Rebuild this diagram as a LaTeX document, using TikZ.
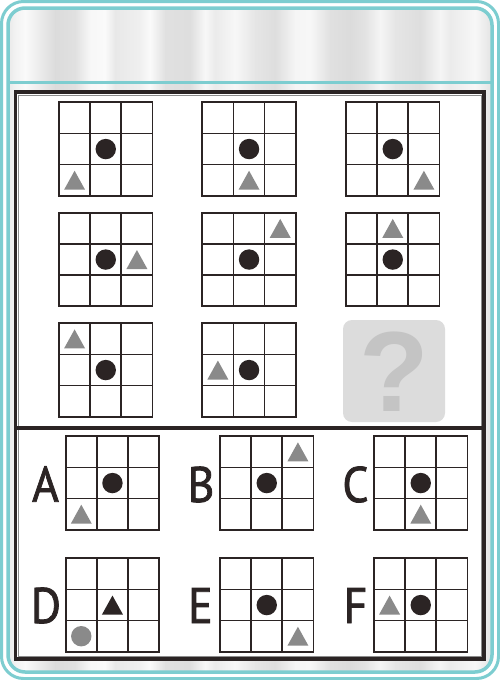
\documentclass[tikz,border=0pt]{standalone}
\usepackage{fontspec}
\newfontfamily\letterfont{PT Sans}[FakeBold=1.6]
\newfontfamily\qfont{Liberation Sans}
\definecolor{tealline}{RGB}{125,205,208}
\definecolor{ink}{RGB}{43,36,36}
\definecolor{trigray}{RGB}{138,138,138}
\definecolor{qbox}{RGB}{220,220,220}
\definecolor{qmark}{RGB}{196,196,196}
\newcommand\cs{31.17}
\newcommand\pzgrid[2]{%
  \begin{scope}[shift={(#1,#2)}]
    \foreach \k in {1,2} {
      \draw[gridline] (\k*\cs,0) -- (\k*\cs,3*\cs);
      \draw[gridline] (0,\k*\cs) -- (3*\cs,\k*\cs);
    }
    \draw[gridline] (0,0) rectangle (3*\cs,3*\cs);
  \end{scope}}
\newcommand\pzcirc[5]{%
  \fill[#5] (#1+#3*\cs+0.5*\cs, #2+#4*\cs+0.5*\cs) circle (10.2pt);}
\newcommand\pztri[5]{%
  \fill[#5, shift={(#1+#3*\cs+0.5*\cs, #2+#4*\cs+0.5*\cs)}] (-10.5,9.5) -- (10.5,9.5) -- (0,-9.5) -- cycle;}
\newcommand\pzstd[4]{% x y tricol trirow
  \pzgrid{#1}{#2}\pzcirc{#1}{#2}{1}{1}{ink}\pztri{#1}{#2}{#3}{#4}{trigray}}
\tikzset{
  gridline/.style={draw=ink, line width=1.7pt, line cap=rect},
  optletter/.style={font=\letterfont\fontsize{50}{50}\selectfont, text=ink, anchor=base, inner sep=0pt, xscale=0.92},
}
\begin{document}
\begin{tikzpicture}[x=1pt,y=-1pt]
\useasboundingbox (0,0) rectangle (500,680);
\fill[white] (0,0) rectangle (500,680);
% curtain background
\begin{scope}
\clip[rounded corners=17pt] (8,8) rectangle (492,672);
\foreach \xa/\ga/\xb/\gb in {0/12/15/5, 15/5/25/2, 25/2/35/6, 35/6/55/14, 55/14/75/12, 75/12/90/3, 90/3/105/2, 105/2/115/9, 115/9/140/6, 140/6/150/2, 150/2/165/12, 165/12/190/13, 190/13/205/3, 205/3/215/8, 215/8/235/3, 235/3/255/10, 255/10/275/13, 275/13/295/4, 295/4/310/3, 310/3/330/12, 330/12/350/14, 350/14/365/11, 365/11/380/4, 380/4/395/10, 395/10/420/13, 420/13/440/4, 440/4/450/8, 450/8/475/3, 475/3/490/10, 490/10/500/10}
  \shade[left color=black!\ga, right color=black!\gb] (\xa,0) rectangle (\xb+0.3,680);
\end{scope}
% teal frame
\draw[tealline, line width=3pt, rounded corners=22pt] (1.5,1.5) rectangle (498.5,678.5);
\draw[tealline, line width=3.5pt, rounded corners=17pt] (8,8) rectangle (492,672);
\draw[tealline, line width=3pt] (8,82.5) -- (492,82.5);
% content panel
\fill[white] (15.5,92) rectangle (484,659);
\draw[black!45, line width=0.6pt] (18.6,95.1) rectangle (480.9,655.9);
\draw[ink, line width=3.5pt] (15.5,92) rectangle (484,659);
\draw[ink, line width=3.5pt] (15.5,428) -- (484,428);
% puzzle matrix
\pzstd{59}{102.3}{0}{2}
\pzstd{202.3}{102.3}{1}{2}
\pzstd{346}{102.3}{2}{2}
\pzstd{59}{212.8}{2}{1}
\pzstd{202.3}{212.8}{2}{0}
\pzstd{346}{212.8}{1}{0}
\pzstd{59}{323.3}{0}{0}
\pzstd{202.3}{323.3}{0}{1}
\fill[qbox, rounded corners=9pt] (343,320) rectangle (445,422);
\node[font=\qfont\bfseries\fontsize{114}{114}\selectfont, text=qmark, anchor=base, inner sep=0pt] (qm) at (394,411) {?};
% options
\pzstd{65.7}{436.3}{0}{2}
\pzstd{220}{436.3}{2}{0}
\pzstd{374}{436.3}{1}{2}
\pzgrid{65.7}{558.3}\pztri{65.7}{558.3}{1}{1}{ink}\pzcirc{65.7}{558.3}{0}{2}{trigray}
\pzstd{220}{558.3}{2}{2}
\pzstd{374}{558.3}{0}{1}
\node[optletter] (la) at (45.5,501.7) {A};
\node[optletter] (lb) at (201,502) {B};
\node[optletter] (lc) at (355.5,502) {C};
\node[optletter] (ld) at (46,623) {D};
\node[optletter] (le) at (200.5,623) {E};
\node[optletter] (lf) at (355.5,623) {F};
\end{tikzpicture}
\end{document}
